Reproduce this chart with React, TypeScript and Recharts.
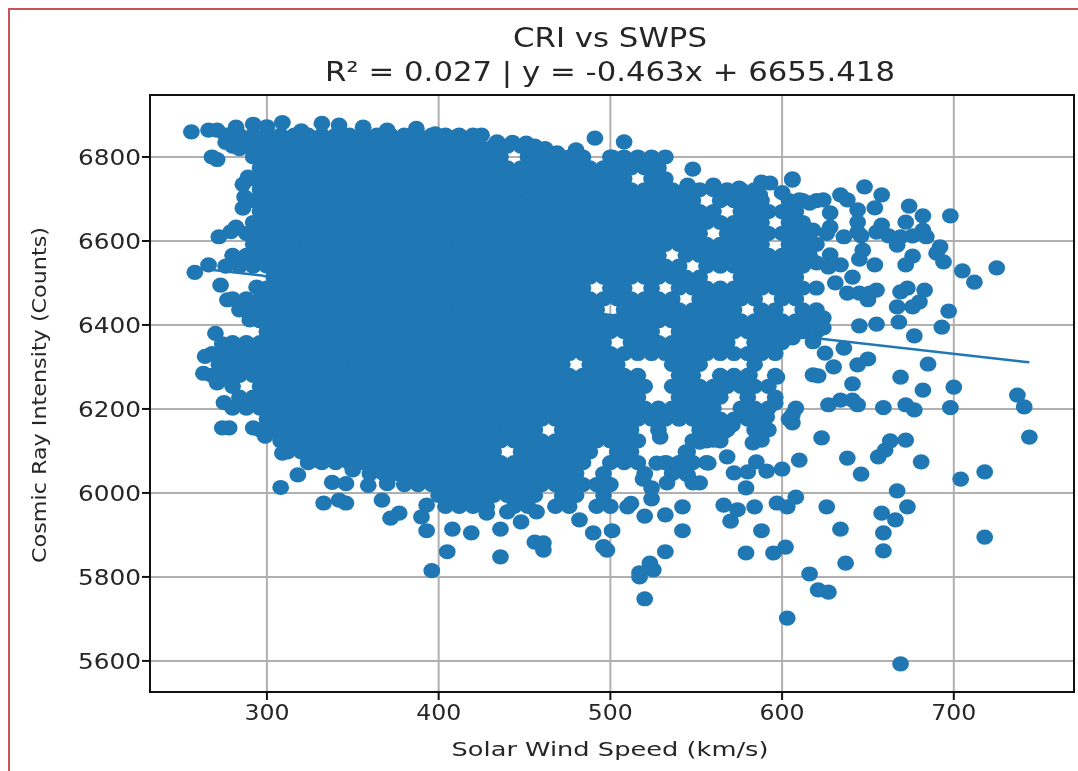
import React from "react";
import { ScatterChart, Scatter, XAxis, YAxis, ReferenceLine } from "recharts";

// Ticks and text
const xTicks = [300, 400, 500, 600, 700];
const yTicks = [5600, 5800, 6000, 6200, 6400, 6600, 6800];
const titleLine1 = "CRI vs SWPS";
const titleLine2 = "R² = 0.027 | y = -0.463x + 6655.418";
const xLabel = "Solar Wind Speed (km/s)";
const yLabel = "Cosmic Ray Intensity (Counts)";

// Fit line end points (speed, counts)
const fitLine = [
  { speed: 257, cri: 6536 },
  { speed: 744, cri: 6311 },
];

// The dense mass of markers cannot be told apart one by one in the picture:
// these rows are estimated speeds that reproduce its outline and its holes.
const rowLevels = [6852, 6826, 6800, 6774, 6748, 6722, 6696, 6670, 6644, 6618, 6592, 6566, 6540, 6514, 6488, 6462, 6436, 6410, 6384, 6358, 6332, 6306, 6280, 6254, 6228, 6202, 6176, 6150, 6124, 6098, 6072, 6046, 6020, 5994, 5968];
const rowSpeeds = [
  [276,284,292,300,308,316,324,332,340,348,356,364,372,380,388,396,404,412,420],
  [280,288,296,304,312,320,328,336,344,352,360,368,376,384,392,400,408,416,424,432,440,448,456],
  [292,300,308,316,324,332,340,348,356,364,372,380,388,396,404,412,420,428,436,452,460,468,476,484,500,508,516,524,532],
  [296,304,312,320,328,336,344,352,360,368,376,384,392,400,408,416,424,432,440,448,456,464,472,480,488,496,504,512,520,528],
  [292,300,308,316,324,332,340,348,356,364,372,380,388,396,404,412,420,428,436,444,452,460,468,476,484,492,500,508,524,532],
  [296,304,312,320,328,336,344,352,360,368,376,384,392,400,408,416,424,432,440,448,456,464,472,480,488,496,504,512,520,528,536,544,552,560,568,576,584],
  [292,300,308,316,324,332,340,348,356,364,372,380,388,396,404,412,420,428,436,444,452,460,468,476,484,492,500,508,516,524,532,540,548,564,572,580,588,604,612,620],
  [296,304,312,320,328,336,344,352,360,368,376,384,392,400,408,416,424,432,440,448,456,464,472,480,488,496,504,512,520,528,536,544,552,560,576,584,592,600,608],
  [292,300,308,316,324,332,340,348,356,364,372,380,388,396,404,412,420,428,436,444,452,460,468,476,484,492,500,508,516,524,532,540,548,556,564,572,580,588,604,612],
  [288,296,304,312,320,328,336,344,352,360,368,376,384,392,400,408,416,424,432,440,448,456,464,472,480,488,496,504,512,520,528,536,544,552,568,576,584,592,600,608,616],
  [292,300,308,316,324,332,340,348,356,364,372,380,388,396,404,412,420,428,436,444,452,460,468,476,484,492,500,508,516,524,532,540,548,556,564,572,580,588,604,612,620],
  [280,288,296,304,312,320,328,336,344,352,360,368,376,384,392,400,408,416,424,432,440,448,456,464,472,480,488,496,504,512,520,528,544,552,560,568,576,584,592,600,608,616],
  [276,284,292,300,308,316,324,332,340,348,356,364,372,380,388,396,404,412,420,428,436,444,452,460,468,476,484,492,500,508,516,524,532,540,556,564,572,580,588,596,604,612],
  [304,312,320,328,336,344,352,360,368,376,384,392,400,408,416,424,432,440,448,456,464,472,480,488,496,504,512,520,528,536,544,552,576,584,592,600,608],
  [300,308,316,324,332,340,348,356,364,372,380,388,396,404,412,420,428,436,444,452,460,468,476,484,500,508,524,540,548,556,564,572,580,588,596,604,612,620],
  [280,288,296,304,312,320,328,336,344,352,360,368,376,384,392,400,408,416,424,432,440,448,456,464,472,480,488,496,504,512,520,528,536,552,560,568,576,584,600,608],
  [284,292,300,308,316,324,332,340,348,356,364,372,380,388,396,404,412,420,428,436,444,452,460,468,476,484,492,508,516,524,532,540,548,556,564,572,588,596,612,620],
  [296,304,312,320,328,336,344,352,360,368,376,384,392,400,408,416,424,432,440,448,456,464,472,480,488,496,504,512,520,528,536,544,552,560,568,576,584,592,600,608,616],
  [300,308,316,324,332,340,348,356,364,372,380,388,396,404,412,420,428,436,444,452,460,468,476,484,492,500,508,516,524,540,548,556,564,572,580,588,596,604,612,620],
  [280,288,296,304,312,320,328,336,344,352,360,368,376,384,392,400,408,416,424,432,440,448,456,464,472,480,488,496,512,520,528,536,544,552,560,568,584,592,600],
  [268,276,284,292,300,308,316,324,332,340,348,356,364,372,380,388,396,404,412,420,428,436,444,452,460,468,476,484,492,500,508,516,524,532,540,548,556,564,572,580,588,596],
  [272,280,288,296,304,312,320,328,336,344,352,360,368,376,384,392,400,408,416,424,432,440,448,456,464,472,488,496,504,536,544,552,584],
  [268,276,284,292,300,308,316,324,332,340,348,356,364,372,380,388,396,404,412,420,428,436,444,452,460,468,476,484,492,500,508,516,540,548,564,572,580,596],
  [280,296,304,312,320,328,336,344,352,360,368,376,384,392,400,408,416,424,432,440,448,456,464,472,480,488,496,504,512,520,536,544,552,560,568,576,584,592],
  [284,292,300,308,316,324,332,340,348,356,364,372,380,388,396,404,412,420,428,436,444,452,460,468,476,484,492,500,508,516,540,548,556,564,580,596],
  [280,288,296,304,312,320,328,336,344,352,360,368,376,384,392,400,408,416,424,432,440,448,456,464,472,480,488,496,504,512,520,528,536,544,552,560,576,584,592,608],
  [300,308,316,324,332,340,348,356,364,372,380,388,396,404,412,420,428,436,444,452,460,468,476,484,492,500,508,516,524,532,540,548,556,564,572,580,588,604],
  [296,304,312,320,328,336,344,352,360,368,376,384,392,400,408,416,424,432,440,448,456,472,480,488,496,504,512,528,552,560,568,584,592],
  [308,316,324,332,340,348,356,364,372,380,388,396,404,412,420,428,436,444,452,460,468,476,484,492,500,508,516,548,556,564],
  [312,320,328,336,344,352,360,368,376,384,392,400,408,416,424,432,448,456,464,472,480,488,504,512,544],
  [324,332,340,348,356,364,372,380,388,396,404,412,420,428,436,444,452,460,468,476,484,500,508,516,532,540,548,556],
  [360,368,376,384,392,400,408,416,424,432,440,448,456,464,472,480,496,520,536,544],
  [380,388,396,404,412,420,428,436,444,452,460,468,476,484,492,500],
  [400,408,416,424,432,440,448,456,472,480,496],
  [404,412,420,428,444,452,468,476,492,500],
];

// Markers readable along the edges and in the sparse right part: [speed, counts]
const topEdgePoints = [[256,6860],[266,6864],[271,6864],[282,6871],[292,6878],[300,6872],[309,6882],[320,6862],[332,6880],[342,6876],[356,6871],[370,6864],[387,6868],[398,6855],[411,6850],[425,6852],[434,6836],[443,6835],[451,6833],[462,6820],[469,6810],[480,6817],[491,6845],[508,6836],[501,6800],[519,6785],[527,6776],[548,6771],[545,6733],[560,6733],[575,6726],[588,6740],[593,6738],[606,6745],[587,6710],[600,6715]];
const leftEdgePoints = [[268,6800],[271,6794],[276,6835],[284,6820],[289,6752],[286,6735],[287,6705],[286,6678],[282,6633],[272,6610],[279,6622],[266,6543],[258,6525],[273,6495],[294,6490],[277,6460],[290,6412],[270,6380],[274,6355],[264,6325],[263,6285],[271,6262],[275,6215],[274,6155],[278,6155],[292,6155],[299,6135],[309,6095],[318,6043],[308,6013],[329,6078],[341,6078],[350,6055],[338,6025],[346,6022],[359,6018],[370,6022],[333,5976],[342,5983],[346,5976],[367,5983],[372,5940],[377,5952],[393,5971],[390,5943],[393,5910],[408,5914],[419,5905],[405,5860],[396,5815]];
const bottomEdgePoints = [[428,5952],[436,5914],[436,5848],[448,5931],[440,5955],[457,5955],[456,5883],[461,5881],[461,5864],[471,5976],[482,5936],[490,5905],[496,5872],[498,5864],[501,5910],[510,5967],[512,5975],[520,5945],[524,5986],[524,6012],[532,5948],[542,5967],[542,5910],[532,5860],[523,5833],[525,5817],[517,5810],[517,5800],[520,5748],[519,6033],[533,6024],[548,6024],[552,6024],[545,6043],[540,6071],[533,6071],[527,6071],[545,6098],[557,6071],[529,6133],[552,6121],[560,6126],[566,6145],[571,6162],[580,6181],[583,6119],[588,6126],[589,6162],[591,6181]];
const rightPoints = [[606,6748],[634,6710],[638,6698],[624,6698],[648,6729],[658,6710],[654,6679],[644,6674],[674,6683],[682,6660],[698,6660],[672,6645],[658,6638],[682,6626],[644,6645],[644,6621],[628,6667],[628,6633],[610,6698],[616,6690],[618,6626],[626,6618],[636,6610],[646,6612],[655,6621],[662,6612],[669,6610],[667,6590],[676,6612],[684,6610],[692,6586],[690,6571],[694,6550],[705,6529],[712,6502],[725,6536],[676,6564],[672,6543],[647,6578],[645,6557],[654,6543],[628,6567],[620,6548],[627,6538],[634,6543],[631,6500],[641,6514],[638,6476],[645,6476],[651,6476],[655,6483],[650,6460],[669,6479],[673,6488],[683,6483],[680,6455],[676,6443],[667,6443],[697,6433],[693,6395],[668,6407],[645,6398],[655,6402],[677,6374],[624,6417],[624,6393],[618,6360],[606,6369],[625,6333],[636,6345],[650,6319],[644,6305],[630,6300],[618,6281],[621,6279],[669,6276],[685,6307],[641,6260],[682,6245],[700,6252],[737,6233],[741,6205],[627,6210],[634,6221],[641,6221],[644,6210],[659,6203],[672,6210],[677,6198],[698,6203],[744,6133],[718,6050],[704,6033],[718,5895],[681,6074],[646,6045],[638,6083],[656,6086],[660,6102],[663,6124],[672,6126],[667,6005],[673,5967],[666,5936],[658,5952],[659,5905],[659,5862],[634,5914],[637,5833],[626,5967],[616,5807],[621,5769],[627,5764],[669,5593],[603,5702],[610,6078],[623,6131],[579,5857],[595,5857],[602,5871],[588,5910],[570,5933],[574,5960],[566,5971],[584,5967],[597,5976],[603,5967],[608,5990],[579,6012],[568,6086],[572,6048],[580,6050],[585,6074],[591,6052],[600,6057],[606,6167],[606,6186],[597,6276],[581,6281],[606,6371],[596,6214]];

const markerData = [
  ...rowLevels.flatMap((cri, i) => rowSpeeds[i].map((speed) => ({ speed, cri }))),
  ...[...topEdgePoints, ...leftEdgePoints, ...bottomEdgePoints, ...rightPoints].map(([speed, cri]) => ({ speed, cri })),
];

const BLUE = "#1f77b4";
const FONT = "'DejaVu Sans', sans-serif";
const INK = "#262626";

const Marker = (p: any) => <ellipse cx={p.cx} cy={p.cy} rx={8.4} ry={7.6} fill={BLUE} />;
const NoMarker = () => null;

const XTick = (p: any) => (
  <text x={p.x} y={p.y + 20} textAnchor="middle" fontFamily={FONT} fontSize={21} fill={INK} textLength={45} lengthAdjust="spacingAndGlyphs">
    {p.payload.value}
  </text>
);
const YTick = (p: any) => (
  <text x={p.x - 1} y={p.y + 8} textAnchor="end" fontFamily={FONT} fontSize={21} fill={INK} textLength={63} lengthAdjust="spacingAndGlyphs">
    {p.payload.value}
  </text>
);

export default function App() {
  return (
    <div style={{ position: "fixed", left: 8, top: 8, width: 1070, height: 763 }}>
      <ScatterChart width={1070} height={763} margin={{ top: 87, right: 4, left: 0, bottom: 0 }}>
        <XAxis
          type="number"
          dataKey="speed"
          domain={[231.9, 770]}
          ticks={xTicks}
          allowDataOverflow
          height={79}
          tickSize={8}
          tickMargin={0}
          tick={<XTick />}
          tickLine={{ stroke: "#111", strokeWidth: 2 }}
          axisLine={{ stroke: "#111", strokeWidth: 2 }}
        />
        <YAxis
          type="number"
          dataKey="cri"
          domain={[5526, 6947.6]}
          ticks={yTicks}
          allowDataOverflow
          width={142}
          tickSize={8}
          tickMargin={0}
          tick={<YTick />}
          tickLine={{ stroke: "#111", strokeWidth: 2 }}
          axisLine={{ stroke: "#111", strokeWidth: 2 }}
        />
        <Scatter data={markerData} shape={<Marker />} isAnimationActive={false} />
        <Scatter data={fitLine} shape={<NoMarker />} line={{ stroke: BLUE, strokeWidth: 2.5 }} isAnimationActive={false} />
        {xTicks.map((v) => (
          <ReferenceLine key={"x" + v} x={v} stroke="#b0b0b0" strokeWidth={2} />
        ))}
        {yTicks.map((v) => (
          <ReferenceLine key={"y" + v} y={v} stroke="#b0b0b0" strokeWidth={2} />
        ))}
      </ScatterChart>
      <svg width={1070} height={763} style={{ position: "absolute", left: 0, top: 0, pointerEvents: "none" }}>
        <rect x={142} y={87} width={924} height={597} fill="none" stroke="#111" strokeWidth={2} />
        <text x={602} y={39} textAnchor="middle" fontFamily={FONT} fontSize={26} fill={INK} textLength={194} lengthAdjust="spacingAndGlyphs">{titleLine1}</text>
        <text x={602} y={73} textAnchor="middle" fontFamily={FONT} fontSize={26} fill={INK} textLength={570} lengthAdjust="spacingAndGlyphs">{titleLine2}</text>
        <text x={602} y={748} textAnchor="middle" fontFamily={FONT} fontSize={20} fill={INK} textLength={317} lengthAdjust="spacingAndGlyphs">{xLabel}</text>
        <text transform="translate(38,387) rotate(-90)" textAnchor="middle" fontFamily={FONT} fontSize={20} fill={INK} textLength={336} lengthAdjust="spacingAndGlyphs">{yLabel}</text>
        <line x1={1} y1={0} x2={1} y2={763} stroke="#c9555a" strokeWidth={2} />
        <line x1={0} y1={1} x2={1070} y2={1} stroke="#c9555a" strokeWidth={2} />
      </svg>
    </div>
  );
}
